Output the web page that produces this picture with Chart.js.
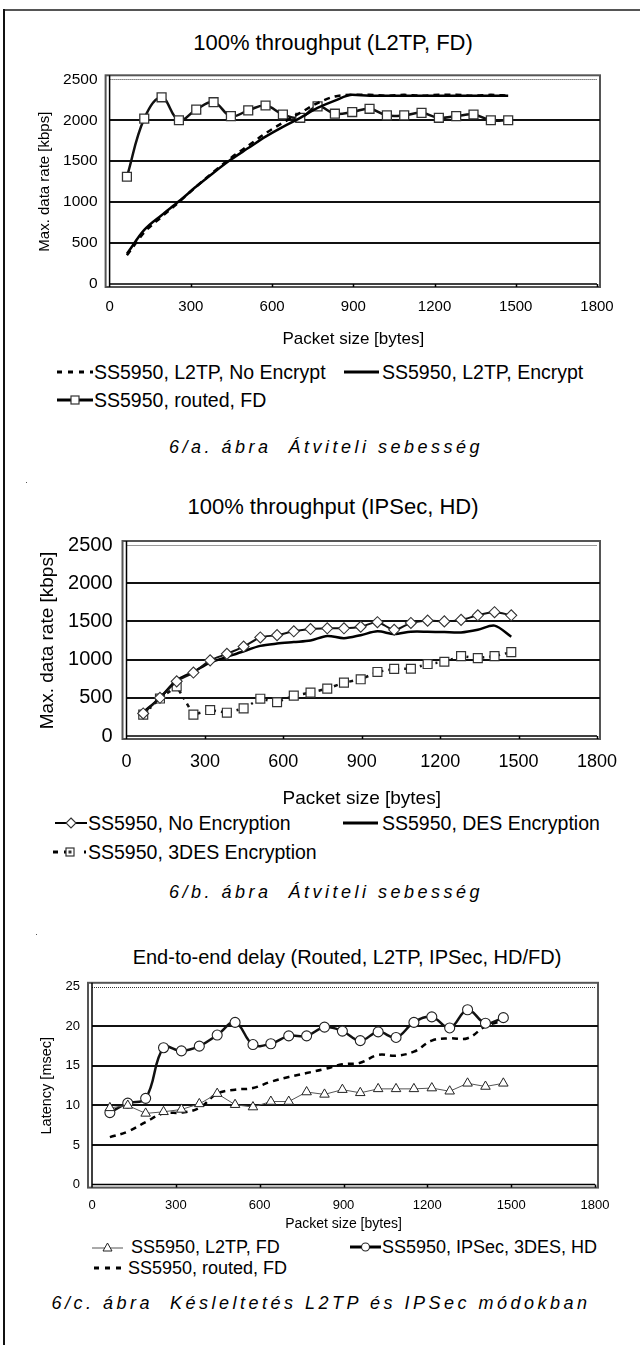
<!DOCTYPE html>
<html lang="hu">
<head>
<meta charset="UTF-8">
<title>Átviteli sebesség és késleltetés</title>
<script src="https://cdn.jsdelivr.net/npm/chart.js@4.4.0/dist/chart.umd.min.js"></script>
<style>
    body {
        margin: 0;
        width: 640px;
        height: 1345px;
        position: relative;
        overflow: hidden;
        background: #fff;
        color: #000;
        font-family: "Liberation Sans", Arial, sans-serif;
    }
    .frame-top { position: absolute; left: 3px; top: 9px; width: 637px; height: 2px; background: #555; }
    .frame-left { position: absolute; left: 3px; top: 9px; width: 2px; height: 1336px; background: #111; }
    .dot { position: absolute; width: 1px; height: 1px; background: #555; }
    .title { position: absolute; white-space: nowrap; transform: translate(-50%, -50%); }
    canvas { position: absolute; left: 0; }
    .sym { position: absolute; }
    .lt { position: absolute; white-space: nowrap; transform: translateY(-50%); }
    .caption {
        position: absolute;
        white-space: pre;
        transform: translate(-50%, -50%);
        font-style: italic;
        font-size: 18px;
        letter-spacing: 3.5px;
    }
</style>
</head>
<body>
<div class="frame-top"></div>
<div class="frame-left"></div>
<div class="dot" style="left:26px; top:482px;"></div>
<div class="dot" style="left:36px; top:934px;"></div>

<!-- 6/a -->
<div class="title" style="left:333px; top:43px; font-size:22px;">100% throughput (L2TP, FD)</div>
<canvas id="chartA" width="640" height="292" style="top:58px;"></canvas>
<svg class="sym" style="left:57px; top:366px;" width="36" height="12"><line x1="0" y1="6" x2="36" y2="6" stroke="#000" stroke-width="3" stroke-dasharray="5,6"/></svg>
<div class="lt" style="left:94px; top:372px; font-size:19.5px;">SS5950, L2TP, No Encrypt</div>
<svg class="sym" style="left:344px; top:366px;" width="35" height="12"><line x1="0" y1="6" x2="35" y2="6" stroke="#000" stroke-width="3"/></svg>
<div class="lt" style="left:382px; top:372px; font-size:19.5px;">SS5950, L2TP, Encrypt</div>
<svg class="sym" style="left:57px; top:393px;" width="36" height="14"><line x1="0" y1="7" x2="36" y2="7" stroke="#000" stroke-width="3"/><rect x="14" y="3" width="8" height="8" fill="#fff" stroke="#333" stroke-width="1.2"/></svg>
<div class="lt" style="left:94px; top:400px; font-size:19.5px;">SS5950, routed, FD</div>
<div class="caption" style="left:326px; top:447px;">6/a. ábra  Átviteli sebesség</div>

<!-- 6/b -->
<div class="title" style="left:333px; top:507px; font-size:22px;">100% throughput (IPSec, HD)</div>
<canvas id="chartB" width="640" height="291" style="top:519px;"></canvas>
<svg class="sym" style="left:55px; top:816px;" width="32" height="14"><line x1="0" y1="7" x2="32" y2="7" stroke="#000" stroke-width="2"/><polygon points="16,2 21,7 16,12 11,7" fill="#fff" stroke="#333" stroke-width="1.1"/></svg>
<div class="lt" style="left:88px; top:823px; font-size:19.5px;">SS5950, No Encryption</div>
<svg class="sym" style="left:343px; top:817px;" width="35" height="12"><line x1="0" y1="6" x2="35" y2="6" stroke="#000" stroke-width="3"/></svg>
<div class="lt" style="left:382px; top:823px; font-size:19.5px;">SS5950, DES Encryption</div>
<svg class="sym" style="left:53px; top:845px;" width="34" height="14"><line x1="0" y1="7" x2="34" y2="7" stroke="#000" stroke-width="3" stroke-dasharray="5,6,2,30"/><line x1="31" y1="7" x2="33" y2="7" stroke="#000" stroke-width="3"/><rect x="13" y="3" width="8" height="8" fill="#fff" stroke="#333" stroke-width="1.2"/><rect x="15.5" y="5.5" width="3" height="3" fill="#333"/></svg>
<div class="lt" style="left:88px; top:852px; font-size:19.5px;">SS5950, 3DES Encryption</div>
<div class="caption" style="left:326px; top:892px;">6/b. ábra  Átviteli sebesség</div>

<!-- 6/c -->
<div class="title" style="left:347px; top:957px; font-size:20px;">End-to-end delay (Routed, L2TP, IPSec, HD/FD)</div>
<canvas id="chartC" width="640" height="266" style="top:967px;"></canvas>
<svg class="sym" style="left:92px; top:1240px;" width="31" height="14"><line x1="0" y1="8" x2="31" y2="8" stroke="#555" stroke-width="1"/><polygon points="15.5,3 20,11 11,11" fill="#fff" stroke="#222" stroke-width="1"/></svg>
<div class="lt" style="left:131px; top:1247px; font-size:18px;">SS5950, L2TP, FD</div>
<svg class="sym" style="left:350px; top:1240px;" width="31" height="14"><line x1="0" y1="7" x2="31" y2="7" stroke="#000" stroke-width="3"/><circle cx="15.5" cy="7" r="4" fill="#fff" stroke="#222" stroke-width="1.1"/></svg>
<div class="lt" style="left:382px; top:1247px; font-size:18px;">SS5950, IPSec, 3DES, HD</div>
<svg class="sym" style="left:94px; top:1262px;" width="33" height="12"><line x1="0" y1="6" x2="33" y2="6" stroke="#000" stroke-width="3" stroke-dasharray="5,6"/></svg>
<div class="lt" style="left:128px; top:1268px; font-size:18px;">SS5950, routed, FD</div>
<div class="caption" style="left:321px; top:1303px;">6/c. ábra  Késleltetés L2TP és IPSec módokban</div>

<script>
    // packet sizes [bytes]
    const packetSizes = [64, 128, 192, 256, 320, 384, 448, 512, 576, 640, 704, 768,
                         832, 896, 960, 1024, 1088, 1152, 1216, 1280, 1344, 1408, 1472];

    // 6/a  max. data rate [kbps]
    const l2tpNoEncrypt = [350, 630, 820, 1000, 1190, 1370, 1540, 1690, 1840, 1970, 2090, 2210,
                           2290, 2310, 2310, 2300, 2310, 2300, 2310, 2310, 2300, 2310, 2300];
    const l2tpEncrypt = [370, 660, 840, 1010, 1190, 1360, 1520, 1660, 1800, 1920, 2030, 2150,
                         2240, 2310, 2300, 2300, 2300, 2300, 2300, 2300, 2300, 2300, 2300];
    const routedFdRate = [1310, 2020, 2280, 2000, 2130, 2220, 2050, 2120, 2180, 2070, 2030, 2170,
                          2080, 2100, 2140, 2060, 2060, 2090, 2030, 2050, 2070, 2000, 2000];

    // 6/b  max. data rate [kbps]
    const noEncryption = [295, 500, 715, 830, 990, 1075, 1170, 1290, 1320, 1370, 1400, 1410,
                          1410, 1430, 1490, 1390, 1480, 1510, 1500, 1520, 1580, 1620, 1580];
    const desEncryption = [310, 500, 730, 840, 960, 1035, 1110, 1180, 1210, 1230, 1250, 1310,
                           1280, 1320, 1370, 1335, 1365, 1365, 1360, 1355, 1390, 1445, 1300];
    const tripleDesEncryption = [280, 490, 650, 280, 340, 305, 362, 488, 442, 528, 568, 620,
                                 698, 742, 838, 878, 880, 942, 972, 1046, 1020, 1045, 1098];

    // 6/c  latency [msec]
    const l2tpFdDelay = [9.7, 10.0, 9.0, 9.2, 9.5, 10.2, 11.5, 10.1, 9.8, 10.5, 10.5, 11.7,
                         11.4, 12.0, 11.6, 12.1, 12.1, 12.1, 12.2, 11.8, 12.8, 12.4, 12.8];
    const ipsec3desHdDelay = [9.1, 10.3, 10.9, 17.3, 16.9, 17.5, 18.9, 20.5, 17.7, 17.8, 18.8, 18.8,
                              19.9, 19.4, 18.2, 19.3, 18.6, 20.5, 21.2, 19.8, 22.1, 20.4, 21.1];
    const routedFdDelay = [6.0, 6.7, 7.9, 9.0, 9.1, 9.7, 11.5, 12.0, 12.2, 13.0, 13.6, 14.1,
                           14.6, 15.2, 15.4, 16.4, 16.3, 16.8, 18.2, 18.5, 18.5, 20.0, 20.7];

    function points(values) {
        return packetSizes.map((x, i) => ({ x: x, y: values[i] }));
    }

    // excel-like plot frame, gridlines and axis lines
    const excelGrid = {
        id: 'excelGrid',
        beforeDatasetsDraw(chart) {
            const { ctx, chartArea: a, scales: { x, y } } = chart;
            ctx.save();
            ctx.strokeStyle = '#555';
            ctx.lineWidth = 2;
            ctx.strokeRect(a.left - 4, a.top - 4, a.right - a.left + 7, a.bottom - a.top + 7);

            y.ticks.forEach(t => {
                if (t.value === y.min) return;
                const py = Math.round(y.getPixelForValue(t.value));
                ctx.beginPath();
                if (t.value === y.max) {
                    ctx.setLineDash([1, 1]);
                    ctx.lineWidth = 1;
                    ctx.strokeStyle = '#333';
                    ctx.moveTo(a.left, py + 0.5);
                    ctx.lineTo(a.right, py + 0.5);
                } else {
                    ctx.setLineDash([]);
                    ctx.lineWidth = 2;
                    ctx.strokeStyle = '#111';
                    ctx.moveTo(a.left, py);
                    ctx.lineTo(a.right + 3, py);
                }
                ctx.stroke();
            });

            ctx.setLineDash([]);
            ctx.strokeStyle = '#000';
            ctx.lineWidth = 1.5;
            ctx.beginPath();
            ctx.moveTo(a.left, a.top - 4);
            ctx.lineTo(a.left, a.bottom + 3);
            ctx.moveTo(a.left, a.bottom);
            ctx.lineTo(a.right, a.bottom);
            x.ticks.forEach(t => {
                if (t.value === x.min) return;
                const px = Math.round(x.getPixelForValue(t.value)) + 0.5;
                ctx.moveTo(px, a.bottom);
                ctx.lineTo(px, a.bottom + 3);
            });
            ctx.stroke();
            ctx.restore();
        }
    };

    const plainNumber = v => String(v);

    function makeChart(id, g, datasets) {
        return new Chart(document.getElementById(id), {
            type: 'line',
            data: { datasets: datasets },
            options: {
                responsive: false,
                animation: false,
                layout: { padding: { left: g.padLeft, right: 640 - g.plotRight, top: g.padTop, bottom: 0 } },
                plugins: { legend: { display: false }, tooltip: { enabled: false } },
                scales: {
                    x: {
                        type: 'linear', min: 0, max: 1800,
                        ticks: { stepSize: 300, color: '#000', font: { size: g.xTickSize }, padding: g.xTickPad,
                                 maxRotation: 0, callback: plainNumber },
                        grid: { display: false, drawTicks: false },
                        border: { display: false },
                        title: { display: true, text: 'Packet size [bytes]', color: '#000',
                                 font: { size: g.xTitleSize }, padding: { top: 0, bottom: 0 } },
                        afterFit: s => { s.height = g.xAxisH; }
                    },
                    y: {
                        min: 0, max: g.yMax,
                        ticks: { stepSize: g.yStep, color: '#000', font: { size: g.yTickSize }, padding: g.yTickPad,
                                 callback: plainNumber },
                        grid: { display: false, drawTicks: false },
                        border: { display: false },
                        title: { display: true, text: g.yTitle, color: '#000',
                                 font: { size: g.yTitleSize }, padding: { top: g.yTitlePad, bottom: 0 } },
                        afterFit: s => { s.width = g.yAxisW; }
                    }
                }
            },
            plugins: [excelGrid]
        });
    }

    Chart.defaults.font.family = '"Liberation Sans", Arial, sans-serif';

    makeChart('chartA', {
        padLeft: 28, plotRight: 597, padTop: 12, yAxisW: 81.6, xAxisH: 66,
        yMax: 2500, yStep: 500, yTitle: 'Max. data rate [kbps]',
        xTickSize: 15, xTickPad: 14, xTitleSize: 17,
        yTickSize: 15.5, yTickPad: 12, yTitleSize: 15, yTitlePad: 8
    }, [
        { label: 'SS5950, L2TP, No Encrypt', data: points(l2tpNoEncrypt), borderColor: '#000',
          borderWidth: 2.5, borderDash: [6, 5], pointRadius: 0, cubicInterpolationMode: 'monotone' },
        { label: 'SS5950, L2TP, Encrypt', data: points(l2tpEncrypt), borderColor: '#000',
          borderWidth: 2.5, pointRadius: 0, cubicInterpolationMode: 'monotone' },
        { label: 'SS5950, routed, FD', data: points(routedFdRate), borderColor: '#111', borderWidth: 2.5,
          tension: 0.4, pointStyle: 'rect', pointRadius: 6.3, pointBackgroundColor: '#fff',
          pointBorderColor: '#333', pointBorderWidth: 1.3 }
    ]);

    makeChart('chartB', {
        padLeft: 28, plotRight: 597, padTop: 14, yAxisW: 98.5, xAxisH: 74,
        yMax: 2500, yStep: 500, yTitle: 'Max. data rate [kbps]',
        xTickSize: 18, xTickPad: 15.7, xTitleSize: 19,
        yTickSize: 20, yTickPad: 14, yTitleSize: 19, yTitlePad: 8.6
    }, [
        { label: 'SS5950, No Encryption', data: points(noEncryption), borderColor: '#111', borderWidth: 2,
          tension: 0.3, pointStyle: 'rectRot', pointRadius: 5.5, pointBackgroundColor: '#fff',
          pointBorderColor: '#333', pointBorderWidth: 1.1 },
        { label: 'SS5950, DES Encryption', data: points(desEncryption), borderColor: '#000',
          borderWidth: 2.5, tension: 0.3, pointRadius: 0 },
        { label: 'SS5950, 3DES Encryption', data: points(tripleDesEncryption), borderColor: '#111',
          borderWidth: 2.5, borderDash: [4, 5, 2, 5], tension: 0, pointStyle: 'rect', pointRadius: 6.3,
          pointBackgroundColor: '#fff', pointBorderColor: '#333', pointBorderWidth: 1.2 }
    ]);

    makeChart('chartC', {
        padLeft: 30, plotRight: 595, padTop: 12, yAxisW: 62, xAxisH: 48.4,
        yMax: 25, yStep: 5, yTitle: 'Latency [msec]',
        xTickSize: 13, xTickPad: 13.2, xTitleSize: 14,
        yTickSize: 13, yTickPad: 12, yTitleSize: 14.5, yTitlePad: 8.3
    }, [
        { label: 'SS5950, L2TP, FD', data: points(l2tpFdDelay), borderColor: '#555', borderWidth: 1,
          tension: 0, pointStyle: 'triangle', pointRadius: 5.5, pointBackgroundColor: '#fff',
          pointBorderColor: '#222', pointBorderWidth: 1 },
        { label: 'SS5950, IPSec, 3DES, HD', data: points(ipsec3desHdDelay), borderColor: '#111',
          borderWidth: 2.5, tension: 0.4, pointStyle: 'circle', pointRadius: 5, pointBackgroundColor: '#fff',
          pointBorderColor: '#222', pointBorderWidth: 1.1 },
        { label: 'SS5950, routed, FD', data: points(routedFdDelay), borderColor: '#000', borderWidth: 2.5,
          borderDash: [6, 5], tension: 0.4, pointRadius: 0 }
    ]);
</script>
</body>
</html>
